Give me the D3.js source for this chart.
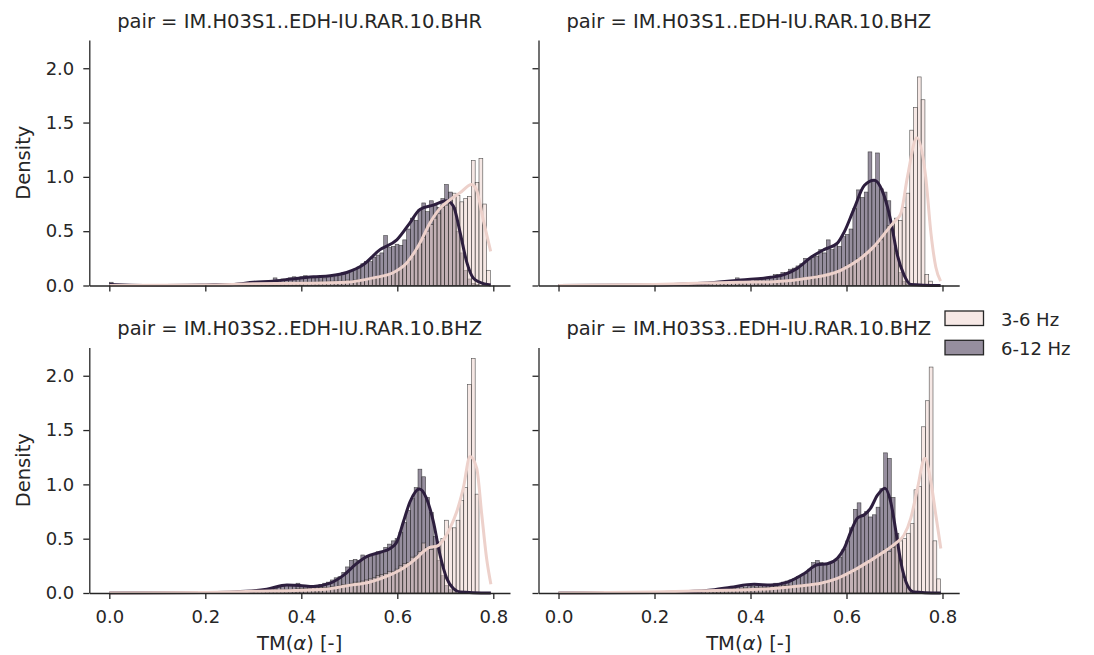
<!DOCTYPE html>
<html>
<head>
<meta charset="utf-8">
<script src="https://cdn.jsdelivr.net/npm/d3@7"></script>
<style>
	body { margin: 0; background: #fff; }
	svg { font-family: "DejaVu Sans", sans-serif; }
</style>
</head>
<body>
<svg id="chart"></svg>
<script>
// facet titles, one per panel (row by row)
const pairs = [
	"IM.H03S1..EDH-IU.RAR.10.BHR",
	"IM.H03S1..EDH-IU.RAR.10.BHZ",
	"IM.H03S2..EDH-IU.RAR.10.BHZ",
	"IM.H03S3..EDH-IU.RAR.10.BHZ"
];
const bandLabels = ["3-6 Hz", "6-12 Hz"];
const xTicks = [0, 0.2, 0.4, 0.6, 0.8];
const yTicks = [0, 0.5, 1.0, 1.5, 2.0];

// histogram bins: first edge and width for each panel (100 bins)
const binStarts = [0, 0.005, 0, 0.006];
const binWidths = [0.00794, 0.0079, 0.00794, 0.0079];

// densities per bin, 3-6 Hz (low) and 6-12 Hz (high)
const lowBand1 = [
	0,0,0,0,0,0,0,0,0,0, 0,0,0,0,0,0,0,0,0,0, 0,0,0,0,0,0,0,0,0,0,
	0,0.01,0,0.01,0.01,0.01,0.01,0.01,0.02,0.01,
	0.02,0.01,0.02,0.02,0.02,0.02,0.02,0.03,0.02,0.03,
	0.03,0.03,0.03,0.03,0.03,0.04,0.03,0.04,0.04,0.04,
	0.04,0.04,0.05,0.04,0.05,0.05,0.05,0.06,0.06,0.07,
	0.08,0.09,0.10,0.11,0.12,0.14,0.16,0.19,0.22,0.27,
	0.32,0.38,0.44,0.50,0.56,0.62,0.66,0.72,0.74,0.78,
	0.85,0.83,0.77,0.80,0.82,1.15,0.95,1.17,0.75,0.14
];
const highBand1 = [
	0.03,0,0,0,0,0,0,0,0,0, 0,0,0,0,0,0,0,0,0,0, 0,0,0,0,0,0,0,0,0,0,
	0.01,0.01,0.01,0.02,0.01,0.02,0.02,0.02,0.03,0.02,
	0.03,0.03,0.04,0.07,0.05,0.06,0.05,0.07,0.08,0.06,
	0.08,0.09,0.08,0.07,0.08,0.08,0.07,0.09,0.08,0.10,
	0.09,0.12,0.11,0.14,0.15,0.17,0.20,0.22,0.22,0.26,
	0.28,0.30,0.46,0.35,0.36,0.38,0.37,0.42,0.52,0.62,
	0.60,0.70,0.76,0.68,0.78,0.74,0.72,0.80,0.93,0.86,
	0.72,0.50,0.30,0.14,0.06,0.02,0.01,0,0,0
];
const lowBand2 = [
	0,0,0,0,0,0,0,0,0,0, 0,0,0,0,0,0,0,0,0,0, 0,0,0,0,0,0,0,0,0,0,
	0.01,0.01,0.01,0.01,0.02,0.01,0.02,0.02,0.02,0.02,
	0.02,0.03,0.02,0.03,0.03,0.03,0.03,0.03,0.03,0.04,
	0.03,0.04,0.04,0.04,0.04,0.04,0.04,0.04,0.05,0.05,
	0.05,0.06,0.06,0.07,0.07,0.07,0.08,0.09,0.09,0.10,
	0.10,0.11,0.13,0.14,0.16,0.18,0.20,0.22,0.25,0.27,
	0.30,0.32,0.35,0.38,0.42,0.48,0.55,0.58,0.62,0.60,
	0.72,0.85,1.43,1.64,1.92,1.71,0.10,0.04,0,0
];
const highBand2 = [
	0,0,0,0,0,0,0,0,0,0, 0,0,0,0,0,0,0,0,0,0, 0,0,0,0,0,0,0,0,0,0,
	0.01,0.01,0.01,0.01,0.02,0.01,0.02,0.02,0.02,0.03,
	0.02,0.03,0.02,0.03,0.03,0.04,0.07,0.03,0.04,0.05,
	0.04,0.05,0.06,0.06,0.07,0.08,0.10,0.10,0.12,0.12,
	0.15,0.16,0.18,0.20,0.25,0.24,0.26,0.27,0.33,0.30,
	0.42,0.33,0.38,0.36,0.45,0.47,0.52,0.71,0.88,0.81,
	0.86,1.23,0.97,1.22,0.89,0.86,0.78,0.55,0.30,0.12,
	0.04,0.01,0,0,0,0,0,0,0,0
];
const lowBand3 = [
	0,0,0,0,0,0,0,0,0,0, 0,0,0,0,0,0,0,0,0,0, 0,0,0,0,0,0,0,0,0,0,
	0.01,0.01,0.01,0.01,0.01,0.01,0.02,0.01,0.02,0.02,
	0.02,0.02,0.02,0.03,0.02,0.03,0.03,0.03,0.03,0.04,
	0.04,0.04,0.04,0.05,0.05,0.05,0.05,0.05,0.06,0.06,
	0.07,0.08,0.08,0.09,0.10,0.10,0.11,0.12,0.13,0.14,
	0.16,0.17,0.18,0.20,0.20,0.22,0.25,0.27,0.28,0.33,
	0.34,0.38,0.46,0.42,0.40,0.44,0.47,0.50,0.67,0.60,
	0.60,0.67,0.85,0.97,1.92,2.16,0.91,0,0,0
];
const highBand3 = [
	0,0,0,0,0,0,0,0,0,0, 0,0,0,0,0,0,0,0,0,0, 0,0,0,0,0,0,0,0,0,0,
	0.01,0.01,0.01,0.01,0.01,0.01,0.02,0.01,0.02,0.02,
	0.03,0.04,0.03,0.04,0.05,0.06,0.07,0.08,0.07,0.09,
	0.07,0.06,0.06,0.07,0.07,0.08,0.09,0.10,0.12,0.14,
	0.15,0.19,0.24,0.30,0.31,0.30,0.35,0.33,0.34,0.36,
	0.38,0.37,0.42,0.45,0.48,0.50,0.56,0.65,0.76,0.87,
	0.97,1.14,1.07,0.88,0.74,0.52,0.30,0.16,0.07,0.03,
	0.01,0,0,0,0,0,0,0,0,0
];
const lowBand4 = [
	0,0,0,0,0,0,0,0,0,0, 0,0,0,0,0,0,0,0,0,0, 0,0,0,0,0,0,0,0,0,0,
	0.01,0.01,0.01,0.02,0.01,0.02,0.02,0.02,0.02,0.03,
	0.02,0.03,0.03,0.03,0.03,0.04,0.03,0.04,0.04,0.04,
	0.04,0.05,0.05,0.05,0.05,0.06,0.06,0.06,0.07,0.07,
	0.07,0.07,0.07,0.08,0.08,0.08,0.09,0.09,0.10,0.10,
	0.11,0.12,0.13,0.14,0.16,0.17,0.19,0.21,0.23,0.26,
	0.27,0.30,0.32,0.34,0.36,0.40,0.38,0.42,0.45,0.48,
	0.50,0.55,0.64,0.95,0.98,1.53,1.77,2.08,0.48,0.13
];
const highBand4 = [
	0,0,0,0,0,0,0,0,0,0, 0,0,0,0,0,0,0,0,0,0, 0,0,0,0,0,0,0,0,0,0,
	0.01,0.01,0.01,0.01,0.01,0.02,0.01,0.02,0.02,0.02,
	0.02,0.02,0.03,0.03,0.04,0.04,0.05,0.06,0.05,0.07,
	0.06,0.08,0.07,0.07,0.08,0.08,0.09,0.09,0.10,0.11,
	0.12,0.13,0.15,0.16,0.18,0.22,0.28,0.30,0.28,0.26,
	0.27,0.28,0.30,0.33,0.40,0.48,0.60,0.77,0.83,0.72,
	0.75,0.70,0.72,0.79,0.96,1.29,1.24,0.88,0.55,0.30,
	0.12,0.04,0.01,0,0,0,0,0,0,0
];

// KDE curves: [TM, density]
const kdeLow1 = [[0,0],[0.2,0.005],[0.3,0.015],[0.4,0.02],[0.4945,0.03],[0.55,0.07],[0.592,0.12],[0.62,0.21],[0.647,0.39],[0.668,0.575],[0.689,0.71],[0.71,0.79],[0.731,0.855],[0.755,0.93],[0.765,0.88],[0.779,0.605],[0.7945,0.315]];
const kdeHigh1 = [[0,0.01],[0.1,0],[0.2,0.005],[0.26,0.01],[0.3,0.03],[0.34,0.04],[0.38,0.06],[0.4255,0.08],[0.46,0.09],[0.4945,0.12],[0.529,0.19],[0.564,0.33],[0.599,0.42],[0.626,0.575],[0.647,0.70],[0.675,0.74],[0.703,0.78],[0.717,0.73],[0.731,0.485],[0.745,0.21],[0.758,0.07],[0.772,0.03],[0.7945,0.005]];
const kdeLow2 = [[0,0],[0.2,0.01],[0.38,0.03],[0.449,0.035],[0.519,0.066],[0.588,0.14],[0.623,0.23],[0.6575,0.36],[0.685,0.51],[0.699,0.585],[0.713,0.66],[0.727,1.0],[0.7465,1.36],[0.765,1.0],[0.776,0.48],[0.786,0.17],[0.796,0.04]];
const kdeHigh2 = [[0,0],[0.2,0.005],[0.3,0.02],[0.38,0.05],[0.442,0.075],[0.47,0.1],[0.498,0.16],[0.526,0.26],[0.553,0.33],[0.581,0.39],[0.595,0.49],[0.616,0.71],[0.637,0.92],[0.6575,0.968],[0.678,0.83],[0.692,0.6],[0.706,0.28],[0.72,0.096],[0.734,0.01],[0.796,0]];
const kdeLow3 = [[0,0],[0.2,0.005],[0.3,0.015],[0.4,0.025],[0.46,0.04],[0.495,0.067],[0.543,0.1],[0.585,0.166],[0.613,0.23],[0.64,0.32],[0.654,0.38],[0.668,0.42],[0.682,0.43],[0.696,0.49],[0.71,0.6],[0.724,0.75],[0.7375,0.965],[0.7515,1.256],[0.7654,1.15],[0.776,0.72],[0.786,0.32],[0.795,0.08]];
const kdeHigh3 = [[0,0],[0.2,0.005],[0.26,0.01],[0.328,0.034],[0.37,0.074],[0.397,0.07],[0.425,0.06],[0.46,0.09],[0.487,0.16],[0.515,0.27],[0.536,0.335],[0.564,0.375],[0.585,0.41],[0.599,0.47],[0.613,0.66],[0.6265,0.84],[0.646,0.958],[0.661,0.87],[0.675,0.66],[0.689,0.35],[0.703,0.135],[0.717,0.04],[0.731,0.01],[0.795,0]];
const kdeLow4 = [[0,0],[0.2,0.01],[0.35,0.025],[0.442,0.04],[0.512,0.07],[0.546,0.09],[0.581,0.135],[0.616,0.21],[0.65,0.3],[0.685,0.4],[0.706,0.47],[0.72,0.535],[0.734,0.69],[0.748,0.965],[0.763,1.24],[0.7756,1.03],[0.786,0.72],[0.7965,0.41]];
const kdeHigh4 = [[0,0],[0.2,0.005],[0.255,0.01],[0.325,0.03],[0.359,0.053],[0.408,0.08],[0.442,0.074],[0.477,0.1],[0.512,0.18],[0.539,0.26],[0.56,0.27],[0.581,0.32],[0.595,0.41],[0.609,0.565],[0.623,0.69],[0.637,0.72],[0.65,0.78],[0.6645,0.9],[0.68,0.965],[0.692,0.84],[0.703,0.565],[0.713,0.29],[0.727,0.07],[0.74,0.01],[0.7965,0]];

function makeChart() {
	let w = 1094;
	let h = 655;
	let panelW = 420.7;
	let panelH = 245.5;
	let lefts = [89.3, 538.5];
	let tops = [40, 347.5];
	let ink = '#262626';
	let colors = ['#edd1cb', '#2d1e3e'];

	let chart = d3.select('#chart')
		.attr('width', w)
		.attr('height', h);

	let xScale = d3.scaleLinear()
		.domain([-0.0417, 0.8348])
		.range([0, panelW]);

	let yScale = d3.scaleLinear()
		.domain([0, 2.26])
		.range([panelH, 0]);

	let line = d3.line()
		.x(d => xScale(d[0]))
		.y(d => yScale(d[1]))
		.curve(d3.curveMonotoneX);

	let panels = [
		{ low: lowBand1, high: highBand1, kLow: kdeLow1, kHigh: kdeHigh1 },
		{ low: lowBand2, high: highBand2, kLow: kdeLow2, kHigh: kdeHigh2 },
		{ low: lowBand3, high: highBand3, kLow: kdeLow3, kHigh: kdeHigh3 },
		{ low: lowBand4, high: highBand4, kLow: kdeLow4, kHigh: kdeHigh4 }
	];

	panels.forEach((p, k) => {
		let col = k % 2;
		let row = Math.floor(k / 2);
		let g = chart.append('g')
			.attr('transform', `translate(${lefts[col]}, ${tops[row]})`);

		let start = binStarts[k];
		let bw = binWidths[k];

		// bars: 6-12 Hz underneath, 3-6 Hz on top
		[[p.high, colors[1]], [p.low, colors[0]]].forEach(([vals, c]) => {
			let bins = vals.map((v, i) => ({ x0: start + i * bw, x1: start + (i + 1) * bw, v: v }))
				.filter(d => d.v > 0);
			g.append('g').selectAll('rect')
				.data(bins)
				.enter()
				.append('rect')
				.attr('x', d => xScale(d.x0))
				.attr('width', d => xScale(d.x1) - xScale(d.x0))
				.attr('y', d => yScale(d.v))
				.attr('height', d => yScale(0) - yScale(d.v))
				.style('fill', c)
				.style('fill-opacity', 0.5)
				.style('stroke', ink)
				.style('stroke-opacity', 0.8)
				.style('stroke-width', 0.6);
		});

		//kde lines
		[[p.kHigh, colors[1]], [p.kLow, colors[0]]].forEach(([pts, c]) => {
			g.append('path')
				.attr('d', line(pts))
				.style('fill', 'none')
				.style('stroke', c)
				.style('stroke-width', 3)
				.style('stroke-linejoin', 'round')
				.style('stroke-linecap', 'butt');
		});

		//AXES
		let xAxis = d3.axisBottom(xScale)
			.tickValues(xTicks)
			.tickSize(6)
			.tickSizeOuter(0)
			.tickPadding(11)
			.tickFormat(row === 1 ? d3.format('.1f') : () => '');
		let yAxis = d3.axisLeft(yScale)
			.tickValues(yTicks)
			.tickSize(6)
			.tickSizeOuter(0)
			.tickPadding(9)
			.tickFormat(col === 0 ? d3.format('.1f') : () => '');

		let gx = g.append('g')
			.attr('transform', `translate(0, ${panelH})`)
			.call(xAxis);
		let gy = g.append('g').call(yAxis);

		[gx, gy].forEach(a => {
			a.select('.domain').style('stroke', ink).style('stroke-width', 1.3);
			a.selectAll('.tick line').style('stroke', ink).style('stroke-width', 1.3);
			a.selectAll('.tick text')
				.style('fill', ink)
				.style('font-size', '18px')
				.style('font-family', '"DejaVu Sans", sans-serif');
		});

		//LABELS
		g.append('text')
			.attr('x', panelW / 2)
			.attr('y', -12.3)
			.style('text-anchor', 'middle')
			.style('font-size', '19.5px')
			.style('fill', ink)
			.text('pair = ' + pairs[k]);

		if (row === 1) {
			let xl = g.append('text')
				.attr('x', panelW / 2)
				.attr('y', panelH + 57)
				.style('text-anchor', 'middle')
				.style('font-size', '19.5px')
				.style('fill', ink);
			xl.append('tspan').text('TM(');
			xl.append('tspan').style('font-style', 'italic').text('\u03b1');
			xl.append('tspan').text(') [-]');
		}

		if (col === 0) {
			g.append('text')
				.attr('transform', 'rotate(-90)')
				.attr('x', -panelH / 2)
				.attr('y', -59)
				.style('text-anchor', 'middle')
				.style('font-size', '19.5px')
				.style('fill', ink)
				.text('Density');
		}
	});

	// legend
	let legend = chart.append('g').attr('transform', 'translate(945, 311)');
	bandLabels.forEach((lab, i) => {
		legend.append('rect')
			.attr('x', 0)
			.attr('y', i * 29.3)
			.attr('width', 38.5)
			.attr('height', 14.5)
			.style('fill', colors[i])
			.style('fill-opacity', 0.5)
			.style('stroke', ink)
			.style('stroke-width', 1.3);
		legend.append('text')
			.attr('x', 56)
			.attr('y', i * 29 + 14.5)
			.style('font-size', '18px')
			.style('fill', ink)
			.text(lab);
	});
}

window.onload = function () {
	makeChart();
}
</script>
</body>
</html>
